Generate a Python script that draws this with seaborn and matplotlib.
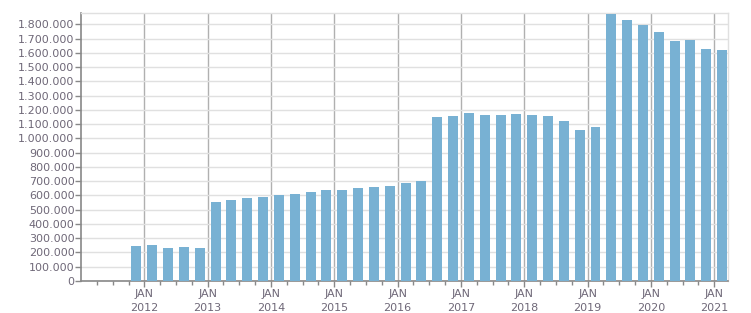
import matplotlib
matplotlib.use("Agg")
import matplotlib.pyplot as plt
import seaborn as sns
import numpy as np
import pandas as pd
from matplotlib.ticker import FixedLocator, FuncFormatter

# ---- data ----
quarters = [
    "2011 Q4",
    "2012 Q1", "2012 Q2", "2012 Q3", "2012 Q4",
    "2013 Q1", "2013 Q2", "2013 Q3", "2013 Q4",
    "2014 Q1", "2014 Q2", "2014 Q3", "2014 Q4",
    "2015 Q1", "2015 Q2", "2015 Q3", "2015 Q4",
    "2016 Q1", "2016 Q2", "2016 Q3", "2016 Q4",
    "2017 Q1", "2017 Q2", "2017 Q3", "2017 Q4",
    "2018 Q1", "2018 Q2", "2018 Q3", "2018 Q4",
    "2019 Q1", "2019 Q2", "2019 Q3", "2019 Q4",
    "2020 Q1", "2020 Q2", "2020 Q3", "2020 Q4",
    "2021 Q1",
]
values = [
    245000,
    252000, 234000, 238000, 234000,
    554000, 568000, 582000, 589000,
    603000, 610000, 624000, 638000,
    638000, 652000, 659000, 666000,
    687000, 701000, 1150000, 1157000,
    1178000, 1164000, 1164000, 1171000,
    1164000, 1157000, 1122000, 1059000,
    1080000, 1872000, 1830000, 1795000,
    1746000, 1683000, 1690000, 1627000,
    1620000,
]
year_labels = ["2012", "2013", "2014", "2015", "2016", "2017", "2018", "2019", "2020", "2021"]
y_ticks = list(range(0, 1800001, 100000))

# quarter position: 0 = January 2012, one unit per quarter, bar centred in its quarter
def qpos(label):
    y, q = label.split(" Q")
    return (int(y) - 2012) * 4 + (int(q) - 1) + 0.5

df = pd.DataFrame({"pos": [qpos(q) for q in quarters], "value": values})

bar_color = "#78b1d3"
text_color = "#6f6878"

fig = plt.figure(figsize=(7.51, 3.13), dpi=100)
ax = fig.add_axes([0.1085, 0.1022, 0.9698 - 0.1085, 0.9575 - 0.1022])

sns.barplot(data=df, x="pos", y="value", native_scale=True, width=0.63,
            color=bar_color, saturation=1, ax=ax, zorder=3)

ax.set_xlim(-3.97, 36.89)
ax.set_ylim(0, 1877000)

# y axis
ax.yaxis.set_major_locator(FixedLocator(y_ticks))
ax.yaxis.set_major_formatter(FuncFormatter(lambda v, p: f"{int(v):,}".replace(",", ".")))
ax.grid(axis="y", color="#e0e0e0", linewidth=1, zorder=0)

# x axis
major = [(int(y) - 2012) * 4 for y in year_labels]
ax.xaxis.set_major_locator(FixedLocator(major))
ax.set_xticklabels([f"JAN\n{y}" for y in year_labels])
ax.xaxis.set_minor_locator(FixedLocator([i for i in range(-3, 37)]))
ax.grid(axis="x", which="major", color="#b0b0b0", linewidth=1, zorder=1)

ax.set_xlabel("")
ax.set_ylabel("")

ax.tick_params(axis="y", length=4, width=1, color="#888888", labelsize=8,
               labelcolor=text_color, pad=1)
ax.tick_params(axis="x", which="major", length=4, width=1, color="#888888",
               labelsize=8, labelcolor=text_color, pad=2)
ax.tick_params(axis="x", which="minor", length=3, width=1, color="#888888")

for s in ["left", "bottom"]:
    ax.spines[s].set_color("#888888")
    ax.spines[s].set_linewidth(1.2)
for s in ["top", "right"]:
    ax.spines[s].set_color("#e0e0e0")
    ax.spines[s].set_linewidth(1)

for lbl in ax.get_xticklabels():
    lbl.set_linespacing(1.4)

fig.savefig("out.png", dpi=100)
